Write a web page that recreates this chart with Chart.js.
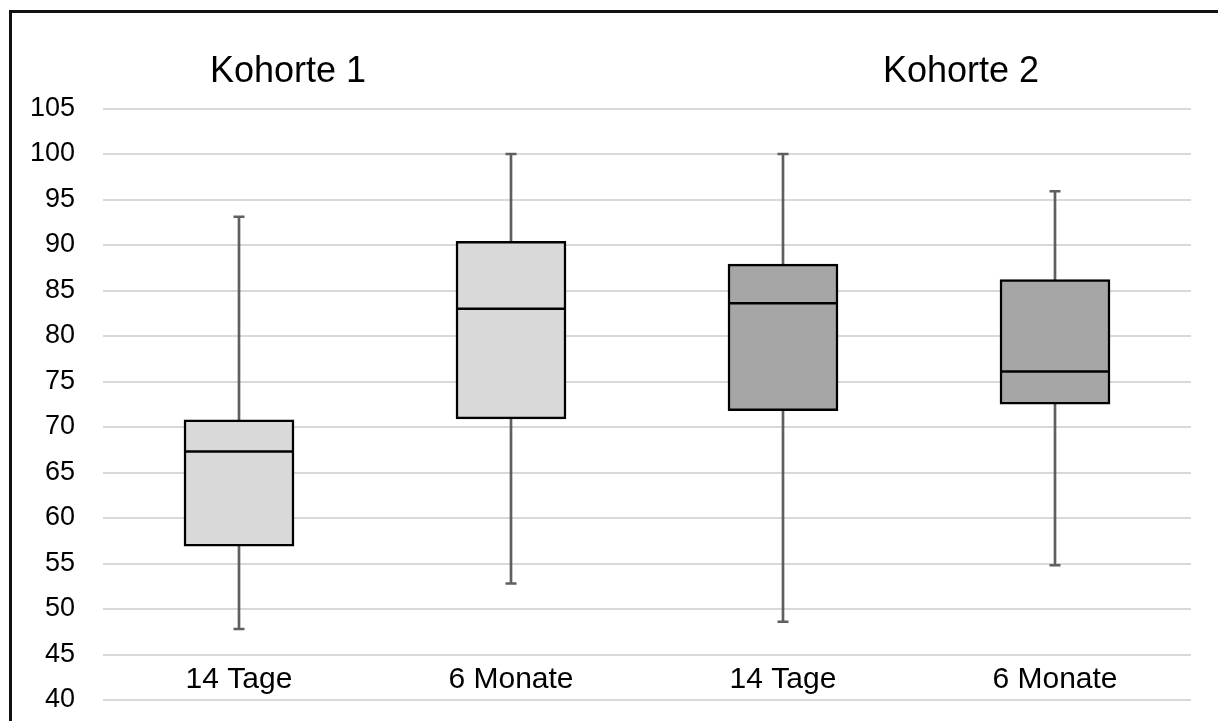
<!DOCTYPE html>
<html>
<head>
<meta charset="utf-8">
<script src="https://cdn.jsdelivr.net/npm/chart.js@4.4.1/dist/chart.umd.min.js"></script>
<style>
  html, body { margin: 0; padding: 0; background: #fff; }
  #wrap { position: relative; width: 1218px; height: 721px; overflow: hidden; }
  #frame { position: absolute; left: 9px; top: 10px; width: 1300px; height: 800px;
           border-top: 3px solid #111; border-left: 3px solid #111; pointer-events: none; }
  canvas { position: absolute; left: 0; top: 0; }
</style>
</head>
<body>
<div id="wrap">
  <canvas id="c" width="1218" height="721"></canvas>
  <div id="frame"></div>
</div>
<script>
// ---- data ----
const categories = ["14 Tage", "6 Monate", "14 Tage", "6 Monate"];
const groupTitles = ["Kohorte 1", "Kohorte 2"];
const minValues    = [47.8, 52.8, 48.6, 54.8];
const q1Values     = [56.9, 70.9, 71.8, 72.5];
const medianValues = [67.3, 83.0, 83.6, 76.1];
const q3Values     = [70.8, 90.4, 87.9, 86.2];
const maxValues    = [93.1, 100.0, 100.0, 95.9];
const yTicks = [40, 45, 50, 55, 60, 65, 70, 75, 80, 85, 90, 95, 100, 105];

const boxColors = ["#d9d9d9", "#d9d9d9", "#a6a6a6", "#a6a6a6"];
const FONT = "'Liberation Sans', Arial, sans-serif";

const whiskerData = minValues.map((v, i) => [v, maxValues[i]]);
const boxData = q1Values.map((v, i) => [v, q3Values[i]]);

const overlayText = {
  id: 'overlayText',
  afterDraw(chart) {
    const ctx = chart.ctx;
    const xs = chart.scales.x, ys = chart.scales.y;
    ctx.save();
    ctx.fillStyle = '#000';
    ctx.textAlign = 'center';
    ctx.textBaseline = 'alphabetic';
    ctx.font = '30px ' + FONT;
    const yLab = ys.getPixelForValue(42.5) + 11;
    categories.forEach((c, i) => {
      ctx.fillText(c, xs.getPixelForValue(i), yLab);
    });
    ctx.font = '36px ' + FONT;
    ctx.fillText(groupTitles[0], 288, 82);
    ctx.fillText(groupTitles[1], 961, 82);
    ctx.restore();
  }
};

new Chart(document.getElementById('c'), {
  type: 'bar',
  data: {
    labels: categories,
    datasets: [
      {
        type: 'bar', label: 'whisker', data: whiskerData,
        backgroundColor: '#5f5f5f', barThickness: 2, grouped: false, order: 3
      },
      {
        type: 'bar', label: 'box', data: boxData,
        backgroundColor: boxColors, borderColor: '#000', borderWidth: 2.5,
        borderSkipped: false, barThickness: 110, grouped: false, order: 2
      },
      {
        type: 'line', label: 'median', data: medianValues, showLine: false,
        pointStyle: 'line', pointRadius: 55, pointHoverRadius: 55,
        pointBorderWidth: 2.5, borderColor: '#000', backgroundColor: '#000', order: 1
      },
      {
        type: 'line', label: 'maxCap', data: maxValues, showLine: false,
        pointStyle: 'line', pointRadius: 5.5, pointHoverRadius: 5.5,
        pointBorderWidth: 2.5, borderColor: '#5f5f5f', backgroundColor: '#5f5f5f', order: 1
      },
      {
        type: 'line', label: 'minCap', data: minValues, showLine: false,
        pointStyle: 'line', pointRadius: 5.5, pointHoverRadius: 5.5,
        pointBorderWidth: 2.5, borderColor: '#5f5f5f', backgroundColor: '#5f5f5f', order: 1
      }
    ]
  },
  options: {
    responsive: false,
    animation: false,
    events: [],
    layout: { autoPadding: false, padding: { top: 108.5, bottom: 21, left: 0, right: 27 } },
    plugins: { legend: { display: false }, tooltip: { enabled: false } },
    scales: {
      x: {
        display: false,
        offset: true
      },
      y: {
        min: 40, max: 105,
        afterFit(scale) {
          scale.width = 103;
          scale.paddingTop = 0;
          scale.paddingBottom = 0;
        },
        afterBuildTicks(scale) { scale.ticks = yTicks.map(v => ({ value: v })); },
        border: { display: false },
        grid: { color: '#d9d9d9', lineWidth: 2, drawTicks: false },
        ticks: {
          color: '#000', padding: 28,
          font: { family: FONT, size: 27 }
        }
      }
    }
  },
  plugins: [overlayText]
});
</script>
</body>
</html>
